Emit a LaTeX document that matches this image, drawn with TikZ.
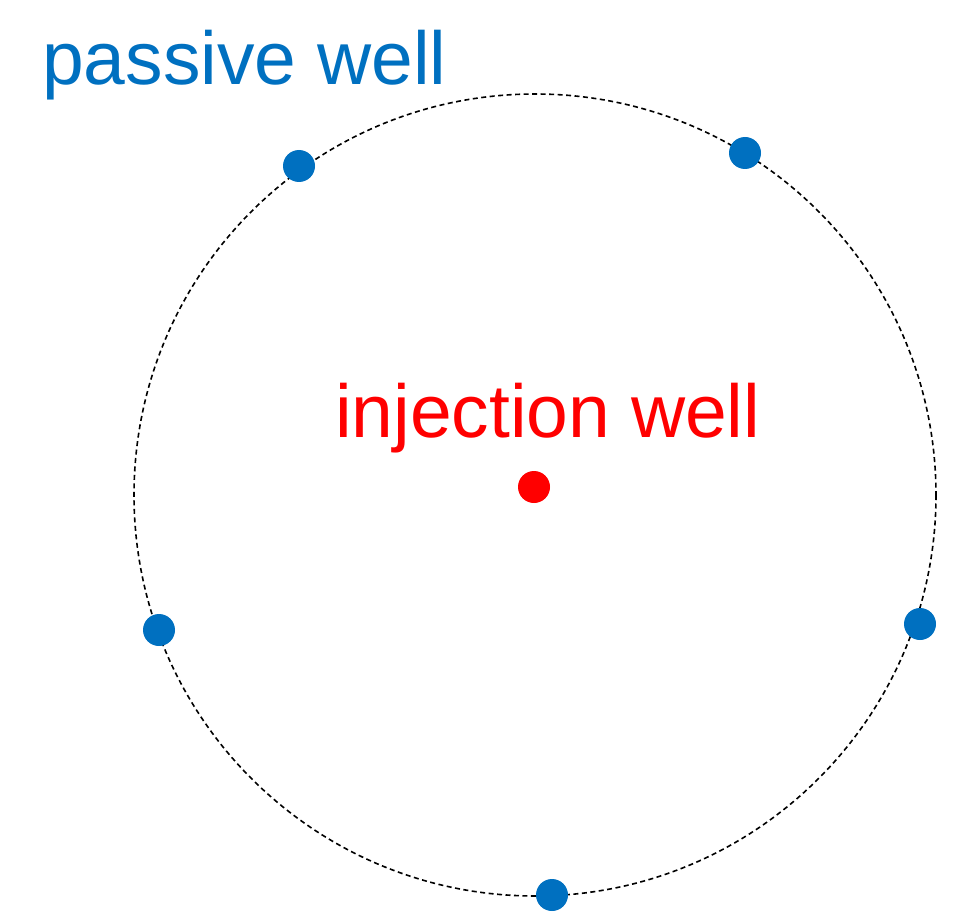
\documentclass[tikz,border=0pt]{standalone}
\usepackage{fontspec}
\setmainfont{Liberation Sans}
\definecolor{wellblue}{HTML}{0070C0}
\definecolor{wellred}{HTML}{FF0000}
\begin{document}
\begin{tikzpicture}[x=1pt,y=-1pt,
  ring/.style={draw=black,line width=1.6pt,dash pattern=on 5pt off 3.5pt},
  passive/.style={circle,fill=wellblue,inner sep=0pt,minimum size=32pt},
  injector/.style={circle,fill=wellred,inner sep=0pt,minimum size=32pt},
  bigtext/.style={inner sep=0pt,font=\fontsize{75}{80}\selectfont}]
\useasboundingbox (0,0) rectangle (977,920);
% monitoring ring around the injection well
\draw[ring] (535,495) circle[radius=401];
% wells
\node[injector] (inj) at (534,487) {};
\node[passive] (p1) at (299,166) {};
\node[passive] (p2) at (745,153) {};
\node[passive] (p3) at (159,630) {};
\node[passive] (p4) at (920,624) {};
\node[passive] (p5) at (552,895) {};
% labels
\node[bigtext,text=wellblue,anchor=base west] (lp) at (42,85) {passive well};
\node[bigtext,text=wellred,anchor=base west] (li) at (335,437) {injection well};
\end{tikzpicture}
\end{document}
